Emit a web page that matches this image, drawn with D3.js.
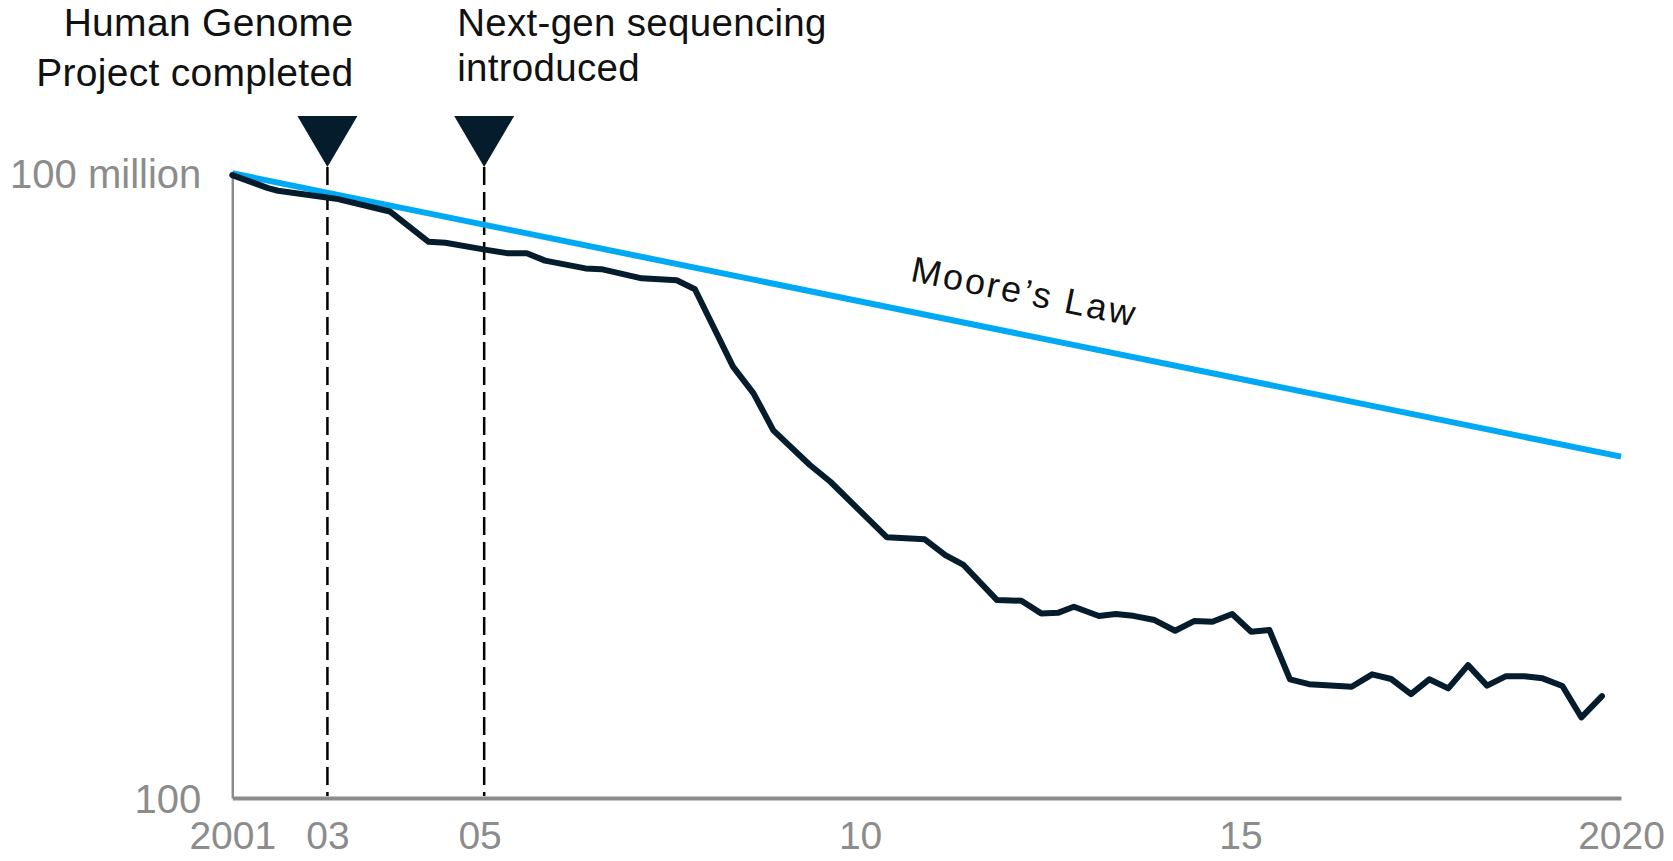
<!DOCTYPE html>
<html>
<head>
<meta charset="utf-8">
<script src="https://cdn.jsdelivr.net/npm/d3@7"></script>
<style>
  html, body { margin: 0; padding: 0; background: #ffffff; }
  svg { display: block; }
  text { font-family: "Liberation Sans", Arial, Helvetica, sans-serif; }
</style>
</head>
<body>
<svg id="chart" width="1673" height="861"></svg>
<script>
// Cost per genome sequenced, US dollars (log scale), by decimal year
const costYears = [
  2001.75, 2002.22, 2002.35, 2002.97, 2003.14, 2003.82, 2004.33, 2004.55,
  2005.05, 2005.36, 2005.62, 2005.86, 2006.39, 2006.60, 2007.13, 2007.59,
  2007.83, 2008.33, 2008.60, 2008.86, 2009.34, 2009.61, 2010.35, 2010.85,
  2011.12, 2011.36, 2011.80, 2012.12, 2012.38, 2012.60, 2012.81, 2013.14,
  2013.36, 2013.59, 2013.87, 2014.14, 2014.39, 2014.63, 2014.89, 2015.14,
  2015.38, 2015.65, 2015.90, 2016.46, 2016.73, 2016.98, 2017.24, 2017.48,
  2017.73, 2017.99, 2018.24, 2018.49, 2018.73, 2018.97, 2019.23, 2019.48,
  2019.75
];
const costValues = [
  9.6e7, 7.2e7, 6.8e7, 5.9e7, 5.65e7, 4.3e7, 2.2e7, 2.15e7,
  1.86e7, 1.71e7, 1.71e7, 1.45e7, 1.22e7, 1.2e7, 9.8e6, 9.4e6,
  7.7e6, 1.39e6, 7.7e5, 3.4e5, 1.58e5, 1.09e5, 3.2e4, 3.05e4,
  2.15e4, 1.73e4, 7960, 7840, 5930, 6000, 6870, 5600,
  5850, 5620, 5120, 4040, 5000, 4930, 5850, 3950,
  4100, 1380, 1240, 1170, 1540, 1390, 996, 1380,
  1130, 1890, 1200, 1480, 1480, 1410, 1190, 594,
  952
];

// Moore's Law reference trend
const mooreYears = [2001.75, 2020];
const mooreValues = [1e8, 1.9e5];

// Milestones marked above the plot
const markerYears = [2003.0, 2005.06];
const markerLabels = [
  ["Human Genome", "Project completed"],
  ["Next-gen sequencing", "introduced"]
];

// Axis ticks
const xTickYears = [2001.75, 2003, 2005, 2010, 2015, 2020];
const xTickLabels = ["2001", "03", "05", "10", "15", "2020"];
const yTickValues = [100, 1e8];
const yTickLabels = ["100", "100 million"];

const svg = d3.select("#chart");
const plotLeft = 232.3, plotRight = 1621, plotTop = 173.3, plotBottom = 798;

const x = d3.scaleLinear().domain([2001.75, 2020]).range([plotLeft, plotRight]);
const y = d3.scaleLog().domain([100, 1e8]).range([plotBottom, plotTop]);

const ink = "#051c2c";
const grey = "#8c8c8c";

// Y axis
const yAxis = d3.axisLeft(y)
  .tickValues(yTickValues)
  .tickFormat((d, i) => yTickLabels[i])
  .tickSize(0)
  .tickPadding(31);
const gy = svg.append("g").attr("transform", `translate(${plotLeft},0)`).call(yAxis);
gy.select(".domain").attr("stroke", grey).attr("stroke-width", 2.5);
gy.selectAll("text")
  .attr("fill", grey)
  .style("font-size", "40px")
  .attr("dy", "0.36em");

// X axis
const xAxis = d3.axisBottom(x)
  .tickValues(xTickYears)
  .tickFormat((d, i) => xTickLabels[i])
  .tickSize(0)
  .tickPadding(24);
const gx = svg.append("g").attr("transform", `translate(0,${plotBottom})`).call(xAxis);
gx.select(".domain").attr("stroke", grey).attr("stroke-width", 4);
gx.selectAll("text")
  .attr("fill", grey)
  .style("font-size", "39px")
  .attr("dy", "0.7em");

// Milestone dashed lines, triangles and labels
const triW = 60, triH = 51, triTop = 116;
markerYears.forEach((yr, i) => {
  const mx = x(yr);
  svg.append("line")
    .attr("x1", mx).attr("x2", mx)
    .attr("y1", triTop + triH).attr("y2", plotBottom - 2)
    .attr("stroke", "#000")
    .attr("stroke-width", 2.5)
    .attr("stroke-dasharray", "18,7");
  svg.append("path")
    .attr("d", `M${mx - triW / 2},${triTop}L${mx + triW / 2},${triTop}L${mx},${triTop + triH}Z`)
    .attr("fill", ink);
  const isLeft = i === 0;
  const t = svg.append("text")
    .attr("text-anchor", isLeft ? "end" : "start")
    .attr("fill", "#111")
    .style("font-size", isLeft ? "39px" : "38.5px")
    .style("letter-spacing", "0.3px");
  const tx = isLeft ? mx + 26 : mx - 27;
  const baseY = 35.5;
  const lineGap = isLeft ? 50 : 45;
  markerLabels[i].forEach((lineText, j) => {
    t.append("tspan")
      .attr("x", tx)
      .attr("y", baseY + j * lineGap)
      .text(lineText);
  });
});

// Moore's Law line
const line = d3.line().x(d => x(d[0])).y(d => y(d[1]));
const moore = mooreYears.map((yr, i) => [yr, mooreValues[i]]);
svg.append("path")
  .datum(moore)
  .attr("d", line)
  .attr("fill", "none")
  .attr("stroke", "#00a9f4")
  .attr("stroke-width", 6)
  .attr("stroke-linecap", "butt");

// Cost per genome line
const cost = costYears.map((yr, i) => [yr, costValues[i]]);
svg.append("path")
  .datum(cost)
  .attr("d", line)
  .attr("fill", "none")
  .attr("stroke", ink)
  .attr("stroke-width", 6)
  .attr("stroke-linejoin", "round")
  .attr("stroke-linecap", "round");

// Moore's Law label, set along the trend line
const x0 = x(mooreYears[0]), y0 = y(mooreValues[0]);
const x1 = x(mooreYears[1]), y1 = y(mooreValues[1]);
const angle = Math.atan2(y1 - y0, x1 - x0) * 180 / Math.PI;
const labelYear = 2010.57;
const lx = x(labelYear);
const ly = y0 + (y1 - y0) * (lx - x0) / (x1 - x0);
svg.append("text")
  .attr("transform", `translate(${lx},${ly}) rotate(${angle})`)
  .attr("x", 0)
  .attr("y", -30)
  .attr("fill", "#111")
  .style("font-size", "36px")
  .style("letter-spacing", "2.4px")
  .text("Moore\u2019s Law");
</script>
</body>
</html>
